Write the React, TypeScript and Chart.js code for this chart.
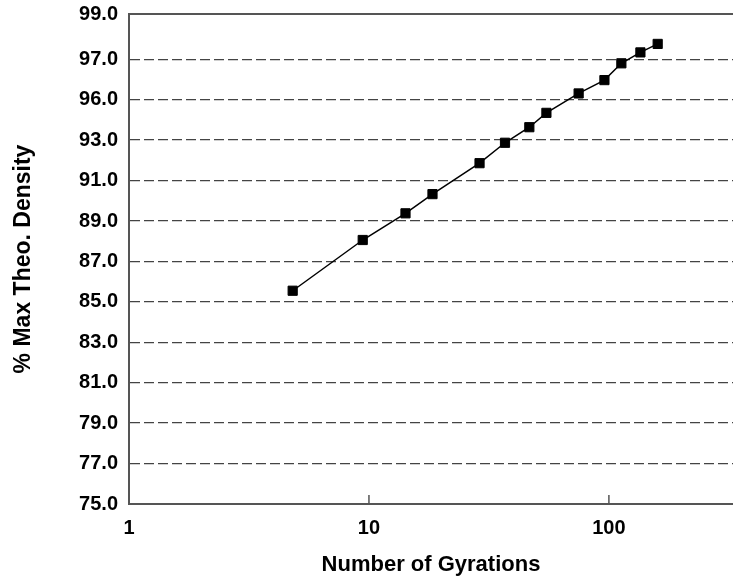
import { useEffect, useRef } from 'react';
import { Chart, registerables } from 'chart.js';

Chart.register(...registerables);

const gyrations = [4.81, 9.42, 14.2, 18.4, 28.9, 36.9, 46.6, 54.9, 74.8, 95.8, 112.7, 135.3, 159.7];
const density = [85.55, 88.06, 89.38, 90.33, 91.86, 92.87, 93.64, 94.35, 95.31, 95.97, 96.8, 97.34, 97.76];

const xTickValues = [1, 10, 100];
const xTickLabels = ['1', '10', '100'];
const yTickValues = [75, 77, 79, 81, 83, 85, 87, 89, 91, 93, 95, 97, 99.24];
const yTickLabels = ['75.0', '77.0', '79.0', '81.0', '83.0', '85.0', '87.0', '89.0', '91.0', '93.0', '96.0', '97.0', '99.0'];

const xMin = 1;
const xMax = 329;
const yMin = 75;
const yMax = 99.24;

const FONT = "'Liberation Sans', Arial, sans-serif";

const framePlugin = {
  id: 'frame',
  afterDraw(chart: any) {
    const { ctx, chartArea: a, scales } = chart;
    ctx.save();
    ctx.strokeStyle = '#555';
    ctx.lineWidth = 2;
    ctx.beginPath();
    ctx.moveTo(a.left - 1, a.top);
    ctx.lineTo(a.right, a.top);
    ctx.stroke();
    ctx.lineWidth = 1.5;
    ctx.beginPath();
    for (const v of xTickValues) {
      if (v === xMin) continue;
      const x = scales.x.getPixelForValue(v);
      ctx.moveTo(x, a.bottom);
      ctx.lineTo(x, a.bottom - 9);
    }
    ctx.stroke();
    ctx.restore();
  },
};

export default function App() {
  const ref = useRef<HTMLCanvasElement | null>(null);

  useEffect(() => {
    if (!ref.current) return;
    const chart = new Chart(ref.current, {
      type: 'scatter',
      data: {
        datasets: [
          {
            data: gyrations.map((x, i) => ({ x, y: density[i] })),
            showLine: true,
            borderColor: '#000',
            backgroundColor: '#000',
            borderWidth: 1.5,
            pointStyle: 'rect',
            pointRadius: 6.5,
            pointBorderWidth: 1,
            pointBackgroundColor: '#000',
            pointBorderColor: '#000',
            tension: 0,
            clip: false,
          },
        ],
      },
      options: {
        animation: false,
        responsive: false,
        layout: { autoPadding: false, padding: { top: 14, right: 0, bottom: 0, left: 0 } },
        plugins: { legend: { display: false }, tooltip: { enabled: false } },
        scales: {
          x: {
            type: 'logarithmic',
            position: 'bottom',
            min: xMin,
            max: xMax,
            afterBuildTicks: (s: any) => {
              s.ticks = xTickValues.map((v) => ({ value: v }));
            },
            afterFit: (s: any) => {
              s.height = 76;
              s.paddingLeft = 0;
              s.paddingRight = 0;
            },
            grid: { display: true, drawOnChartArea: false, drawTicks: false },
            border: { display: true, color: '#555', width: 2 },
            ticks: {
              color: '#000',
              font: { family: FONT, size: 20, weight: 'bold' },
              padding: 12,
              autoSkip: false,
              maxRotation: 0,
              callback: (_v: any, i: number) => xTickLabels[i],
            },
            title: {
              display: true,
              text: 'Number of Gyrations',
              color: '#000',
              font: { family: FONT, size: 22, weight: 'bold' },
              padding: { top: 0, bottom: 2 },
            },
          },
          y: {
            type: 'linear',
            min: yMin,
            max: yMax,
            afterBuildTicks: (s: any) => {
              s.ticks = yTickValues.map((v) => ({ value: v }));
            },
            afterFit: (s: any) => {
              s.width = 129;
              s.paddingTop = 0;
              s.paddingBottom = 0;
            },
            grid: {
              drawTicks: false,
              lineWidth: 1.3,
              color: (c: any) =>
                c.tick && (c.tick.value >= yMax || c.tick.value <= yMin) ? 'rgba(0,0,0,0)' : '#444',
            },
            border: { display: true, color: '#555', width: 2, dash: [10, 4] },
            ticks: {
              color: '#000',
              font: { family: FONT, size: 20, weight: 'bold' },
              padding: 11,
              callback: (_v: any, i: number) => yTickLabels[i],
            },
            title: {
              display: true,
              text: '% Max Theo. Density',
              color: '#000',
              font: { family: FONT, size: 23, weight: 'bold' },
              padding: { top: 10, bottom: 0 },
            },
          },
        },
      },
      plugins: [framePlugin],
    } as any);
    return () => chart.destroy();
  }, []);

  return (
    <div style={{ position: 'absolute', left: 0, top: 0, width: 733, height: 580, background: '#fff' }}>
      <canvas ref={ref} width={733} height={580} />
    </div>
  );
}
